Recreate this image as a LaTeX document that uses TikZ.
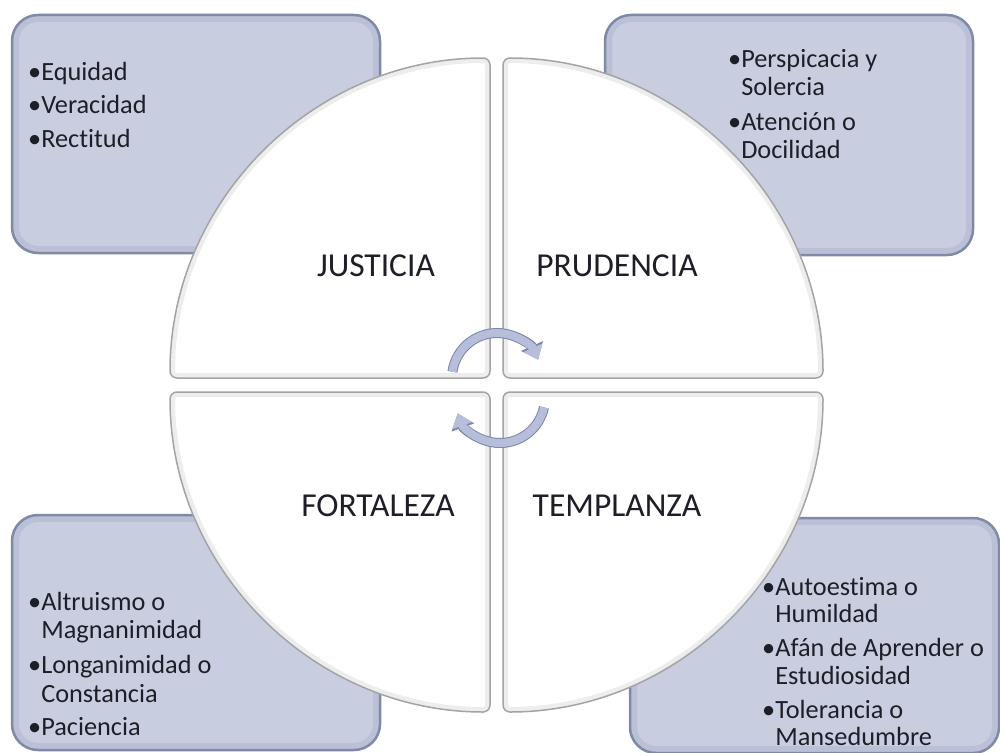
\documentclass[tikz,border=0pt]{standalone}
\usepackage{fontspec}
\setmainfont{Carlito}[Ligatures=NoCommon]
\usetikzlibrary{arrows.meta}
\definecolor{boxfill}{HTML}{C8CDE0}
\definecolor{boxband}{HTML}{BAC0D6}
\definecolor{boxline}{HTML}{7F89A8}
\definecolor{quadline}{HTML}{A4A4A4}
\definecolor{arrfill}{HTML}{B7BEDA}
\definecolor{arrline}{HTML}{7C86AC}
\definecolor{txt}{HTML}{1E1E28}
\begin{document}
\begin{tikzpicture}[x=1pt,y=1pt,yscale=-1,
  itm/.style={anchor=base west, inner sep=0pt, font=\fontsize{26.3}{30}\selectfont, text=txt},
  ttl/.style={inner sep=0pt, font=\fontsize{33.5}{40}\selectfont, text=txt},
  cyc/.style={draw=arrfill, line width=8pt, -{Triangle[length=13pt,width=20pt]},
    preaction={draw=arrline, line width=10pt, -{Triangle[length=15pt,width=23pt]}}}]
\useasboundingbox (0,0) rectangle (1000,752);
\clip (0,0) rectangle (1000,752);
\fill[white] (0,0) rectangle (1000,752);

% side boxes
\def\bTL{(12,15) rectangle (380,253)}
\def\bTR{(605,15) rectangle (973,255)}
\def\bBL{(12,515) rectangle (380,750)}
\def\bBR{(630,518) rectangle (999,753)}
\foreach \b in {\bTL,\bTR,\bBL,\bBR}{
  \fill[boxfill, rounded corners=26pt] \b;
  \begin{scope}
    \clip[rounded corners=26pt] \b;
    \draw[boxband, line width=14pt, rounded corners=26pt] \b;
  \end{scope}
  \draw[boxline, line width=2.5pt, rounded corners=26pt] \b;
}

% quadrants
\def\qTL{(490,378) -- (170,378) arc[start angle=180,end angle=270,radius=320] -- cycle}
\def\qTR{(503,378) -- (503,58) arc[start angle=270,end angle=360,radius=320] -- cycle}
\def\qBL{(490,392) -- (170,392) arc[start angle=180,end angle=90,radius=320] -- cycle}
\def\qBR{(503,392) -- (823,392) arc[start angle=0,end angle=90,radius=320] -- cycle}
\foreach \q in {\qTL,\qTR,\qBL,\qBR}{
  \fill[white, rounded corners=7pt] \q;
  \begin{scope}
    \clip[rounded corners=7pt] \q;
    \draw[black!7, line width=10pt, rounded corners=7pt] \q;
  \end{scope}
  \draw[quadline, line width=1.5pt, rounded corners=7pt] \q;
}

% titles
\node[ttl] (just) at (376,266) {JUSTICIA};
\node[ttl] (prud) at (617,266) {PRUDENCIA};
\node[ttl] (fort) at (378,506) {FORTALEZA};
\node[ttl] (temp) at (617,506) {TEMPLANZA};

% cycle arrows
\draw[cyc] (497,378) ++(188:45) arc[start angle=188,end angle=336,radius=45];
\draw[cyc] (500,398) ++(12:45) arc[start angle=12,end angle=160,radius=45];

% box texts
\node[itm] (tl1) at (28,80) {•Equidad};
\node[itm] (tl2) at (28,113) {•Veracidad};
\node[itm] (tl3) at (28,147) {•Rectitud};

\node[itm] (tr1) at (728,67) {•Perspicacia y};
\node[itm] (tr2) at (728,95) {\hphantom{•}Solercia};
\node[itm] (tr3) at (728,130) {•Atención o};
\node[itm] (tr4) at (728,158) {\hphantom{•}Docilidad};

\node[itm] (bl1) at (28,610) {•Altruismo o};
\node[itm] (bl2) at (28,638) {\hphantom{•}Magnanimidad};
\node[itm] (bl3) at (28,673) {•Longanimidad o};
\node[itm] (bl4) at (28,702) {\hphantom{•}Constancia};
\node[itm] (bl5) at (28,735) {•Paciencia};

\node[itm] (br1) at (762,595) {•Autoestima o};
\node[itm] (br2) at (762,622) {\hphantom{•}Humildad};
\node[itm] (br3) at (762,656) {•Afán de Aprender o};
\node[itm] (br4) at (762,684) {\hphantom{•}Estudiosidad};
\node[itm] (br5) at (762,718) {•Tolerancia o};
\node[itm] (br6) at (762,745) {\hphantom{•}Mansedumbre};
\end{tikzpicture}
\end{document}
